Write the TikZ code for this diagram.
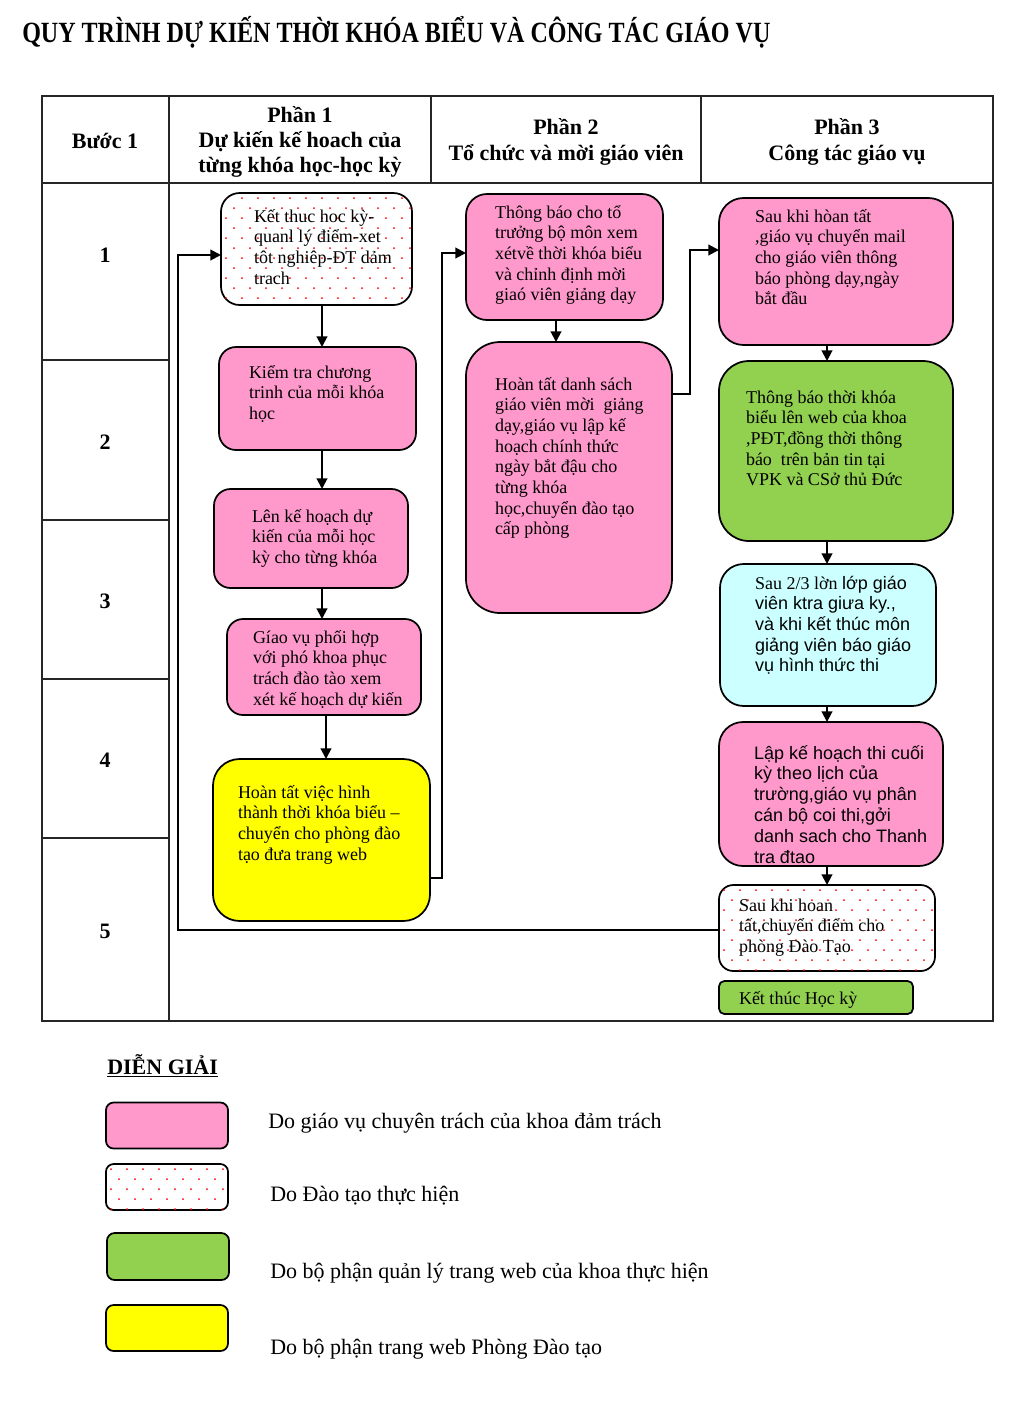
\documentclass[tikz,border=0pt]{standalone}
\usepackage{fontspec}
\setmainfont{Liberation Serif}
\newfontfamily\sansf{Liberation Sans}
\newfontfamily\titlefont[FakeStretch=0.82]{Liberation Serif}
\usetikzlibrary{arrows.meta}
\definecolor{pinkc}{HTML}{FF99CC}
\definecolor{greenc}{HTML}{92D050}
\definecolor{yellowc}{HTML}{FFFF00}
\definecolor{cyanc}{HTML}{CCFFFF}
\definecolor{dotred}{HTML}{FF0000}
\newcommand\ml[1]{\begin{tabular}[t]{@{}l@{}}#1\end{tabular}}
\newcommand\dotsin[5]{%
  \begin{scope}
    \clip[rounded corners=#5] (#1,#2) rectangle (#3,#4);
    \pgfmathtruncatemacro\nr{(#4-#2)/10}
    \pgfmathtruncatemacro\nc{(#3-#1)/16}
    \foreach \r in {0,...,\nr}{\foreach \c in {0,...,\nc}{
      \fill[dotred] ({#1+5+\c*16+mod(\r,2)*8},{#2+5+\r*10}) circle[radius=0.75pt];}}
  \end{scope}}
\begin{document}
\begin{tikzpicture}[x=0.75pt,y=-0.75pt,
  tbl/.style={line width=1pt, draw=black!85},
  bx/.style={draw=black, line width=1.3pt, inner sep=0pt, outer sep=0pt},
  pinkbox/.style={bx, fill=pinkc},
  greenbox/.style={bx, fill=greenc},
  yellowbox/.style={bx, fill=yellowc},
  cyanbox/.style={bx, fill=cyanc},
  dotbox/.style={bx},
  txt/.style={anchor=base west, inner sep=0pt, outer sep=0pt, font=\fontsize{13.5}{15.5}\selectfont},
  stxt/.style={anchor=base west, inner sep=0pt, outer sep=0pt, font=\sansf\fontsize{13.5}{15.6}\selectfont},
  hdr/.style={inner sep=0pt, align=center, font=\bfseries\fontsize{16.5}{19}\selectfont},
  leg/.style={anchor=base west, inner sep=0pt, font=\fontsize{16.5}{19}\selectfont},
  arr/.style={line width=1.5pt, -{Triangle[length=8pt,width=8pt]}},
  ln/.style={line width=1.5pt}
]
\useasboundingbox (0,0) rectangle (1024,1404);
\fill[white] (0,0) rectangle (1024,1404);

% title
\node[anchor=base west, inner sep=0pt, font=\titlefont\bfseries\fontsize{22}{26}\selectfont] (title) at (22,42) {QUY TRÌNH DỰ KIẾN THỜI KHÓA BIỂU VÀ CÔNG TÁC GIÁO VỤ};

% table
\draw[tbl] (42,96) rectangle (993,1021);
\draw[tbl] (42,183) -- (993,183);
\draw[tbl] (169,96) -- (169,1021);
\draw[tbl] (431,96) -- (431,183);
\draw[tbl] (701,96) -- (701,183);
\foreach \yy in {360,520,679,838} \draw[tbl] (42,\yy) -- (169,\yy);

\node[hdr] (h0) at (105,141) {Bước 1};
\node[hdr] (h1) at (300,142) {Phần 1\\Dự kiến kế hoach của\\từng khóa học-học kỳ};
\node[hdr] (h2) at (566,142) {Phần 2\\Tổ chức và mời giáo viên};
\node[hdr] (h3) at (847,142) {Phần 3\\Công tác giáo vụ};

\node[hdr] (r1) at (105,255) {1};
\node[hdr] (r2) at (105,442) {2};
\node[hdr] (r3) at (105,601) {3};
\node[hdr] (r4) at (105,760) {4};
\node[hdr] (r5) at (105,931) {5};

% column A
\node[dotbox, minimum width=143.25pt, minimum height=84pt, rounded corners=14pt] (a1) at (316.5,249) {};
\dotsin{221}{193}{412}{305}{14pt}
\node[txt] (a1t) at (254,222) {\ml{Kết thuc hoc kỳ-\\quanl lý điểm-xet\\tôt nghiêp-ĐT dảm\\trach}};

\node[pinkbox, minimum width=147.75pt, minimum height=77.25pt, rounded corners=12.75pt] (a2) at (317.5,398.5) {};
\node[txt] (a2t) at (249,378) {\ml{Kiểm tra chương\\trinh của mỗi khóa\\học}};

\node[pinkbox, minimum width=145.5pt, minimum height=74.25pt, rounded corners=12.4pt] (a3) at (311,538.5) {};
\node[txt] (a3t) at (252,522) {\ml{Lên kế hoạch dự\\kiến của mỗi học\\kỳ cho từng khóa}};

\node[pinkbox, minimum width=145.5pt, minimum height=72pt, rounded corners=12pt] (a4) at (324,667) {};
\node[txt] (a4t) at (253,643) {\ml{Gíao vụ phối hợp\\với phó khoa phục\\trách đào tào xem\\xét kế hoạch dự kiến}};

\node[yellowbox, minimum width=162.75pt, minimum height=121.5pt, rounded corners=20pt] (a5) at (321.5,840) {};
\node[txt] (a5t) at (238,798) {\ml{Hoàn tất việc hình\\thành thời khóa biểu –\\chuyển cho phòng đào\\tạo đưa trang web}};

% column B
\node[pinkbox, minimum width=147.75pt, minimum height=94.5pt, rounded corners=15.75pt] (b1) at (564.5,257) {};
\node[txt] (b1t) at (495,218) {\ml{Thông báo cho tổ\\trưởng bộ môn xem\\xétvề thời khóa biểu\\và chỉnh định mời\\giaó viên giảng dạy}};

\node[pinkbox, minimum width=154.5pt, minimum height=203.25pt, rounded corners=25.5pt] (b2) at (569,477.5) {};
\node[txt] (b2t) at (495,390) {\ml{Hoàn tất danh sách\\giáo viên mời\ \ giảng\\dạy,giáo vụ lập kế\\hoạch chính thức\\ngày bắt đậu cho\\từng khóa\\học,chuyển đào tạo\\cấp phòng}};

% column C
\node[pinkbox, minimum width=175.5pt, minimum height=110.25pt, rounded corners=18.4pt] (c1) at (836,271.5) {};
\node[txt] (c1t) at (755,222) {\ml{Sau khi hòan tất\\,giáo vụ chuyển mail\\cho giáo viên thông\\báo phòng dạy,ngày\\bắt đầu}};

\node[greenbox, minimum width=175.5pt, minimum height=135pt, rounded corners=22.5pt] (c2) at (836,451) {};
\node[txt] (c2t) at (746,403) {\ml{Thông báo thời khóa\\biểu lên web của khoa\\,PĐT,đồng thời thông\\báo\ \ trên bản tin tại\\VPK và CSở thủ Đức}};

\node[cyanbox, minimum width=162pt, minimum height=106.5pt, rounded corners=17.75pt] (c3) at (828,635) {};
\node[txt] (c3t) at (755,589) {\ml{Sau 2/3 lờn {\sansf lớp giáo}\\\sansf viên ktra giưa ky.,\\\sansf và khi kết thúc môn\\\sansf giảng viên báo giáo\\\sansf vụ hình thức thi}};

\node[pinkbox, minimum width=168pt, minimum height=108pt, rounded corners=18pt] (c4) at (831,794) {};
\node[stxt] (c4t) at (754,759) {\ml{Lập kế hoạch thi cuối\\kỳ theo lịch của\\trường,giáo vụ phân\\cán bộ coi thi,gởi\\danh sach cho Thanh\\tra đtao}};

\node[dotbox, minimum width=162pt, minimum height=64.5pt, rounded corners=10.75pt] (c5) at (827,928) {};
\dotsin{719}{885}{935}{971}{10.75pt}
\node[txt] (c5t) at (739,911) {\ml{Sau khi hoan\\tất,chuyển điểm cho\\phòng Đào Tạo}};

\node[greenbox, minimum width=145.5pt, minimum height=24.75pt, rounded corners=4pt] (c6) at (816,997.5) {};
\node[txt] (c6t) at (739,1004) {Kết thúc Học kỳ};

% connectors
\coordinate (xA) at (322,0);
\coordinate (xA2) at (326,0);
\coordinate (xB) at (556,0);
\coordinate (xC) at (827,0);
\draw[arr] (a1.south -| xA) -- (a2.north -| xA);
\draw[arr] (a2.south -| xA) -- (a3.north -| xA);
\draw[arr] (a3.south -| xA) -- (a4.north -| xA);
\draw[arr] (a4.south -| xA2) -- (a5.north -| xA2);
\draw[arr] (b1.south -| xB) -- (b2.north -| xB);
\draw[arr] (c1.south -| xC) -- (c2.north -| xC);
\draw[arr] (c2.south -| xC) -- (c3.north -| xC);
\draw[arr] (c3.south -| xC) -- (c4.north -| xC);
\draw[arr] (c4.south -| xC) -- (c5.north -| xC);

\coordinate (p1) at (442,878);
\coordinate (p2) at (442,253);
\draw[arr] (a5.east |- p1) -- (p1) -- (p2) -- (b1.west |- p2);

\coordinate (q1) at (690,394);
\coordinate (q2) at (690,250);
\draw[arr] (b2.east |- q1) -- (q1) -- (q2) -- (c1.west |- q2);

\coordinate (s1) at (178,930);
\coordinate (s2) at (178,255);
\draw[arr] (c5.west |- s1) -- (s1) -- (s2) -- (a1.west |- s2);

% legend
\node[anchor=base west, inner sep=0pt, font=\bfseries\fontsize{16.5}{19}\selectfont] (legt) at (107,1074) {\underline{DIỄN GIẢI}};
\node[pinkbox, minimum width=91.5pt, minimum height=34.5pt, rounded corners=5.7pt] (l1) at (167,1125.5) {};
\node[dotbox, minimum width=91.5pt, minimum height=34.5pt, rounded corners=5.7pt] (l2) at (167,1187) {};
\dotsin{106}{1164}{228}{1210}{5.7pt}
\node[greenbox, minimum width=91.5pt, minimum height=35.25pt, rounded corners=5.7pt] (l3) at (168,1256.5) {};
\node[yellowbox, minimum width=91.5pt, minimum height=34.5pt, rounded corners=5.7pt] (l4) at (167,1328) {};
\node[leg] (l1t) at (268,1128) {Do giáo vụ chuyên trách của khoa đảm trách};
\node[leg] (l2t) at (270,1201) {Do Đào tạo thực hiện};
\node[leg] (l3t) at (270,1278) {Do bộ phận quản lý trang web của khoa thực hiện};
\node[leg] (l4t) at (270,1354) {Do bộ phận trang web Phòng Đào tạo};
\end{tikzpicture}
\end{document}
